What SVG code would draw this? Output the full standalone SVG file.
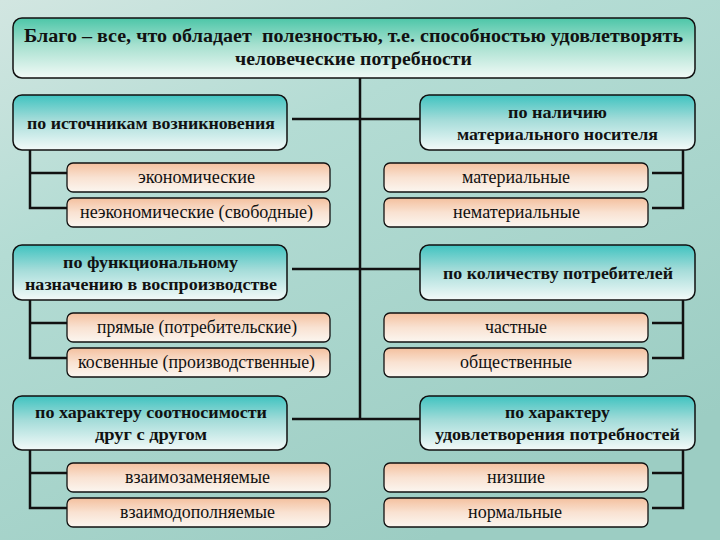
<svg xmlns="http://www.w3.org/2000/svg" width="720" height="540" viewBox="0 0 720 540" font-family="Liberation Serif, Times New Roman, serif">
<defs>
<linearGradient id="bg" x1="0" y1="0" x2="0.6" y2="1">
<stop offset="0" stop-color="#d2e6e1"/>
<stop offset="0.35" stop-color="#b4dcd4"/>
<stop offset="1" stop-color="#9ccdc3"/>
</linearGradient>
<linearGradient id="gTitle" x1="0" y1="0" x2="0" y2="1">
<stop offset="0" stop-color="#4cc6a8"/>
<stop offset="0.45" stop-color="#a6e0cf"/>
<stop offset="1" stop-color="#f2faf7"/>
</linearGradient>
<linearGradient id="gCat" x1="0" y1="0" x2="0" y2="1">
<stop offset="0" stop-color="#3fc3c0"/>
<stop offset="0.45" stop-color="#a4dcd9"/>
<stop offset="1" stop-color="#f3faf9"/>
</linearGradient>
<linearGradient id="gSub" x1="0" y1="0" x2="0" y2="1">
<stop offset="0" stop-color="#f4c09e"/>
<stop offset="0.5" stop-color="#f9e2d2"/>
<stop offset="1" stop-color="#fbf6f0"/>
</linearGradient>
</defs>
<style>
.title{fill:url(#gTitle);stroke:#111;stroke-width:1.5}
.cat{fill:url(#gCat);stroke:#111;stroke-width:1.5}
.sub{fill:url(#gSub);stroke:#111;stroke-width:1.3}
text{fill:#111;text-anchor:middle}
.tt{font-weight:bold;font-size:18.5px}
.ct{font-weight:bold;font-size:17.5px}
.st{font-size:18px}
.ln{stroke:#111;stroke-width:2.5;fill:none}
</style>
<rect x="0" y="0" width="720" height="540" fill="url(#bg)"/>

<g id="connectors">
<path class="ln" d="M360 78 V419"/>
<path class="ln" d="M292 119 H420"/>
<path class="ln" d="M292 269 H420"/>
<path class="ln" d="M292 419 H420"/>
<path class="ln" d="M30 150 V208 H67 M30 173 H67"/>
<path class="ln" d="M30 300 V358 H67 M30 323 H67"/>
<path class="ln" d="M30 450 V508 H67 M30 473 H67"/>
<path class="ln" d="M683 150 V208 H652 M683 173 H652"/>
<path class="ln" d="M683 300 V358 H652 M683 323 H652"/>
<path class="ln" d="M683 450 V508 H652 M683 473 H652"/>
</g>

<g id="title">
<rect class="title" x="13" y="18" width="682" height="60" rx="9"/>
<text class="tt" x="353.5" y="42" xml:space="preserve" textLength="659" lengthAdjust="spacingAndGlyphs">Благо – все, что обладает  полезностью, т.е. способностью удовлетворять</text>
<text class="tt" x="353.5" y="65" textLength="237" lengthAdjust="spacingAndGlyphs">человеческие потребности</text>
</g>

<g id="cat-sources">
<rect class="cat" x="13" y="95" width="274" height="55" rx="9"/>
<text class="ct" x="151" y="129" textLength="248" lengthAdjust="spacingAndGlyphs">по источникам возникновения</text>
</g>
<g id="sub-economic">
<rect class="sub" x="67" y="163" width="263" height="29" rx="6"/>
<text class="st" x="196.5" y="183" textLength="117" lengthAdjust="spacingAndGlyphs">экономические</text>
</g>
<g id="sub-noneconomic">
<rect class="sub" x="67" y="198" width="263" height="29" rx="6"/>
<text class="st" x="196.5" y="218" textLength="233" lengthAdjust="spacingAndGlyphs">неэкономические (свободные)</text>
</g>

<g id="cat-material">
<rect class="cat" x="420" y="95" width="275" height="55" rx="9"/>
<text class="ct" x="557.5" y="118" textLength="99" lengthAdjust="spacingAndGlyphs">по наличию</text>
<text class="ct" x="557.5" y="140" textLength="201" lengthAdjust="spacingAndGlyphs">материального носителя</text>
</g>
<g id="sub-material">
<rect class="sub" x="384" y="163" width="264" height="29" rx="6"/>
<text class="st" x="516" y="183" textLength="108" lengthAdjust="spacingAndGlyphs">материальные</text>
</g>
<g id="sub-nonmaterial">
<rect class="sub" x="384" y="198" width="264" height="29" rx="6"/>
<text class="st" x="516.5" y="218" textLength="127" lengthAdjust="spacingAndGlyphs">нематериальные</text>
</g>

<g id="cat-function">
<rect class="cat" x="13" y="245" width="274" height="55" rx="9"/>
<text class="ct" x="150.5" y="268" textLength="175" lengthAdjust="spacingAndGlyphs">по функциональному</text>
<text class="ct" x="151" y="290" textLength="252" lengthAdjust="spacingAndGlyphs">назначению в воспроизводстве</text>
</g>
<g id="sub-direct">
<rect class="sub" x="67" y="313" width="263" height="29" rx="6"/>
<text class="st" x="197" y="333" textLength="200" lengthAdjust="spacingAndGlyphs">прямые (потребительские)</text>
</g>
<g id="sub-indirect">
<rect class="sub" x="67" y="348" width="263" height="29" rx="6"/>
<text class="st" x="196.5" y="368" textLength="237" lengthAdjust="spacingAndGlyphs">косвенные (производственные)</text>
</g>

<g id="cat-consumers">
<rect class="cat" x="420" y="245" width="275" height="55" rx="9"/>
<text class="ct" x="558" y="279" textLength="230" lengthAdjust="spacingAndGlyphs">по количеству потребителей</text>
</g>
<g id="sub-private">
<rect class="sub" x="384" y="313" width="264" height="29" rx="6"/>
<text class="st" x="516" y="333" textLength="62" lengthAdjust="spacingAndGlyphs">частные</text>
</g>
<g id="sub-public">
<rect class="sub" x="384" y="348" width="264" height="29" rx="6"/>
<text class="st" x="516" y="368" textLength="112" lengthAdjust="spacingAndGlyphs">общественные</text>
</g>

<g id="cat-relation">
<rect class="cat" x="13" y="396" width="274" height="54" rx="9"/>
<text class="ct" x="151" y="418" textLength="232" lengthAdjust="spacingAndGlyphs">по характеру соотносимости</text>
<text class="ct" x="151" y="440" textLength="112" lengthAdjust="spacingAndGlyphs">друг с другом</text>
</g>
<g id="sub-substitutes">
<rect class="sub" x="67" y="463" width="263" height="29" rx="6"/>
<text class="st" x="197.5" y="483" textLength="145" lengthAdjust="spacingAndGlyphs">взаимозаменяемые</text>
</g>
<g id="sub-complements">
<rect class="sub" x="67" y="498" width="263" height="29" rx="6"/>
<text class="st" x="197.5" y="518" textLength="155" lengthAdjust="spacingAndGlyphs">взаимодополняемые</text>
</g>

<g id="cat-needs">
<rect class="cat" x="420" y="396" width="275" height="54" rx="9"/>
<text class="ct" x="557.5" y="418" textLength="105" lengthAdjust="spacingAndGlyphs">по характеру</text>
<text class="ct" x="557.5" y="440" textLength="245" lengthAdjust="spacingAndGlyphs">удовлетворения потребностей</text>
</g>
<g id="sub-inferior">
<rect class="sub" x="384" y="463" width="264" height="29" rx="6"/>
<text class="st" x="516" y="483" textLength="58" lengthAdjust="spacingAndGlyphs">низшие</text>
</g>
<g id="sub-normal">
<rect class="sub" x="384" y="498" width="264" height="29" rx="6"/>
<text class="st" x="515" y="518" textLength="94" lengthAdjust="spacingAndGlyphs">нормальные</text>
</g>
</svg>
